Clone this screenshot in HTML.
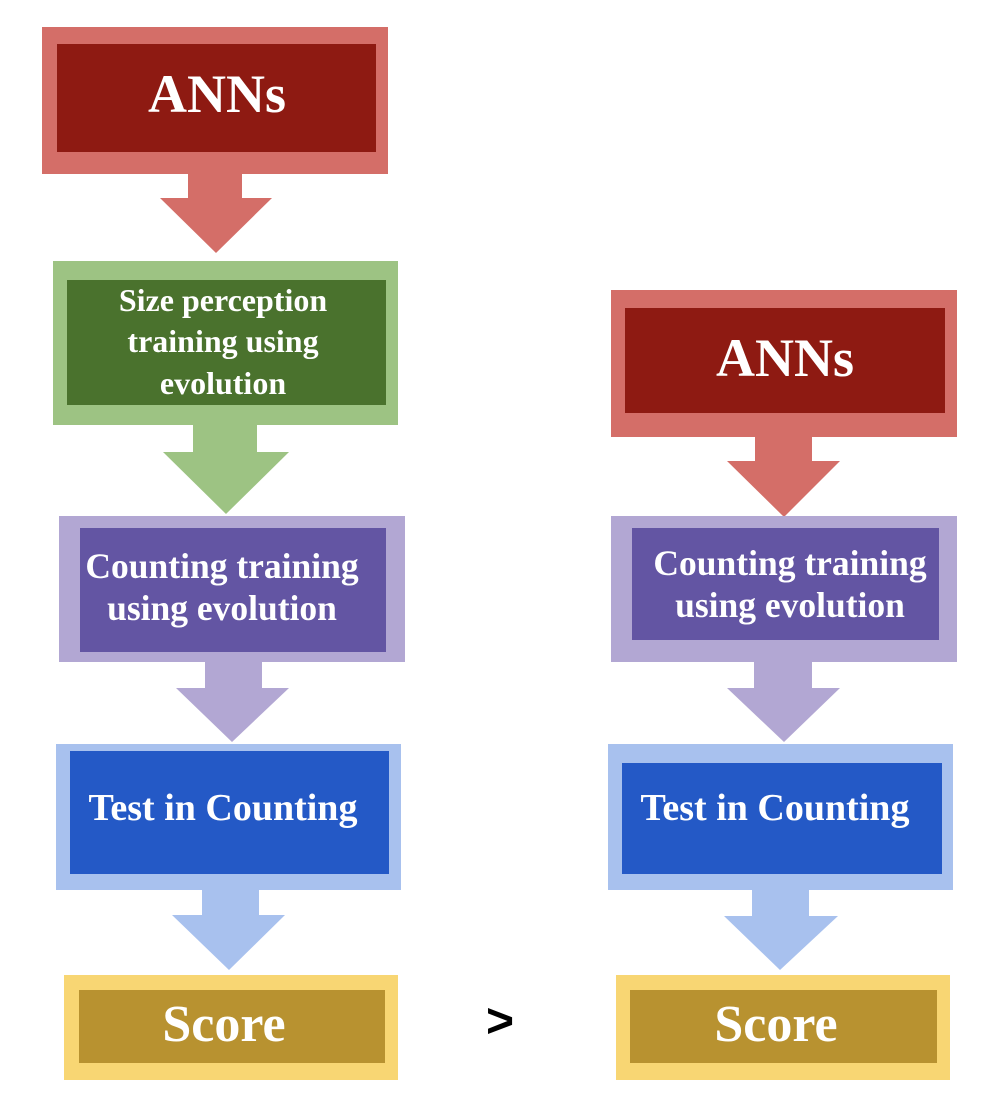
<!DOCTYPE html>
<html><head><style>
body{margin:0;width:990px;height:1094px;background:#fff;position:relative;overflow:hidden;font-family:"Liberation Serif",serif;font-weight:bold;color:#fff}
.b{position:absolute}
.t{position:absolute;display:flex;align-items:center;justify-content:center;text-align:center;line-height:1.3;white-space:nowrap}
</style></head><body>
<svg class="b" style="left:0;top:0" width="990" height="1094">
<g fill="#d46e68"><rect x="42" y="27" width="346" height="147"/><rect x="188" y="174" width="54" height="25"/><polygon points="160,198 272,198 216,253"/>
<rect x="611" y="290" width="346" height="147"/><rect x="755" y="437" width="57" height="25"/><polygon points="727,461 840,461 784,517"/></g>
<g fill="#8e1a12"><rect x="57" y="44" width="319" height="108"/><rect x="625" y="308" width="320" height="105"/></g>
<g fill="#9dc383"><rect x="53" y="261" width="345" height="164"/><rect x="193" y="425" width="64" height="28"/><polygon points="163,452 289,452 226,514"/></g>
<rect x="67" y="280" width="319" height="125" fill="#4a722d"/>
<g fill="#b2a7d3"><rect x="59" y="516" width="346" height="146"/><rect x="205" y="662" width="57" height="27"/><polygon points="176,688 289,688 232,742"/>
<rect x="611" y="516" width="346" height="146"/><rect x="754" y="662" width="58" height="27"/><polygon points="727,688 840,688 784,742"/></g>
<g fill="#6355a3"><rect x="80" y="528" width="306" height="124"/><rect x="632" y="528" width="307" height="112"/></g>
<g fill="#a8c1ee"><rect x="56" y="744" width="345" height="146"/><rect x="202" y="890" width="57" height="26"/><polygon points="172,915 285,915 229,970"/>
<rect x="608" y="744" width="345" height="146"/><rect x="752" y="890" width="57" height="27"/><polygon points="724,916 838,916 780,970"/></g>
<g fill="#2459c6"><rect x="70" y="751" width="319" height="123"/><rect x="622" y="763" width="320" height="111"/></g>
<g fill="#f8d673"><rect x="64" y="975" width="334" height="105"/><rect x="616" y="975" width="334" height="105"/></g>
<g fill="#b89230"><rect x="79" y="990" width="306" height="73"/><rect x="630" y="990" width="307" height="73"/></g>
</svg>
<div class="t" style="left:117px;top:44px;width:200px;height:100px;font-size:54px">ANNs</div>
<div class="t" style="left:685px;top:308px;width:200px;height:100px;font-size:54px">ANNs</div>
<div class="t" style="left:73px;top:279px;width:300px;height:126px;font-size:32px">Size perception<br>training using<br>evolution</div>
<div class="t" style="left:72px;top:542px;width:300px;height:90px;font-size:35.5px;line-height:42px">Counting training<br>using evolution</div>
<div class="t" style="left:640px;top:539px;width:300px;height:90px;font-size:35.5px;line-height:42px">Counting training<br>using evolution</div>
<div class="t" style="left:73px;top:784px;width:300px;height:50px;font-size:38px">Test in Counting</div>
<div class="t" style="left:625px;top:784px;width:300px;height:50px;font-size:38px">Test in Counting</div>
<div class="t" style="left:124px;top:995px;width:200px;height:60px;font-size:52px">Score</div>
<div class="t" style="left:676px;top:995px;width:200px;height:60px;font-size:52px">Score</div>
<div class="t" style="left:470px;top:995px;width:60px;height:55px;font-size:48px;color:#000;font-family:'Liberation Sans',sans-serif">&gt;</div>
</body></html>
